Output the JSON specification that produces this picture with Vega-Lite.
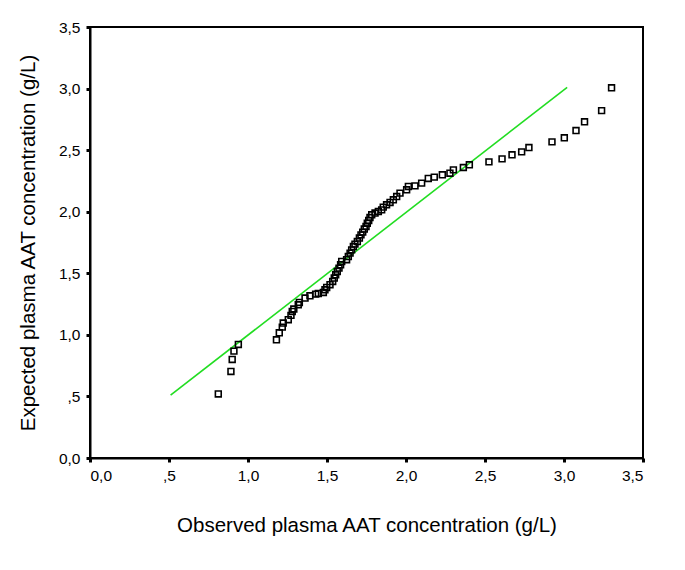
{
  "$schema": "https://vega.github.io/schema/vega-lite/v6.json",
  "autosize": {"type": "none"},
  "padding": {"left": 90, "top": 27, "right": 42, "bottom": 112},
  "width": 553,
  "height": 431,
  "background": "white",
  "config": {
    "view": {"stroke": "black", "strokeWidth": 2},
    "font": "Liberation Sans",
    "axis": {
      "grid": false,
      "domainColor": "black",
      "domainWidth": 2,
      "tickColor": "black",
      "tickWidth": 3,
      "tickSize": 4,
      "labelFont": "Liberation Sans",
      "labelFontSize": 15.5,
      "labelColor": "black",
      "labelPadding": 6,
      "titleFont": "Liberation Sans",
      "titleFontSize": 20.5,
      "titleFontWeight": "normal",
      "titleColor": "black"
    }
  },
  "datasets": {
    "pts": [
      {"obs": 0.812, "exp": 0.52},
      {"obs": 0.892, "exp": 0.703},
      {"obs": 0.900, "exp": 0.80},
      {"obs": 0.911, "exp": 0.868},
      {"obs": 0.939, "exp": 0.922},
      {"obs": 1.18, "exp": 0.96},
      {"obs": 1.198, "exp": 1.017},
      {"obs": 1.217, "exp": 1.063},
      {"obs": 1.223, "exp": 1.096},
      {"obs": 1.255, "exp": 1.123},
      {"obs": 1.272, "exp": 1.158},
      {"obs": 1.28, "exp": 1.19},
      {"obs": 1.29, "exp": 1.21},
      {"obs": 1.318, "exp": 1.244},
      {"obs": 1.325, "exp": 1.263},
      {"obs": 1.361, "exp": 1.299},
      {"obs": 1.392, "exp": 1.317},
      {"obs": 1.428, "exp": 1.331},
      {"obs": 1.445, "exp": 1.336},
      {"obs": 1.477, "exp": 1.344},
      {"obs": 1.487, "exp": 1.366},
      {"obs": 1.498, "exp": 1.385},
      {"obs": 1.519, "exp": 1.407},
      {"obs": 1.536, "exp": 1.434},
      {"obs": 1.546, "exp": 1.461},
      {"obs": 1.555, "exp": 1.488},
      {"obs": 1.565, "exp": 1.515},
      {"obs": 1.576, "exp": 1.542},
      {"obs": 1.586, "exp": 1.569},
      {"obs": 1.593, "exp": 1.596},
      {"obs": 1.624, "exp": 1.61},
      {"obs": 1.635, "exp": 1.636},
      {"obs": 1.646, "exp": 1.664},
      {"obs": 1.656, "exp": 1.69},
      {"obs": 1.667, "exp": 1.717},
      {"obs": 1.677, "exp": 1.737},
      {"obs": 1.692, "exp": 1.758},
      {"obs": 1.705, "exp": 1.786},
      {"obs": 1.715, "exp": 1.812},
      {"obs": 1.726, "exp": 1.834},
      {"obs": 1.736, "exp": 1.859},
      {"obs": 1.747, "exp": 1.88},
      {"obs": 1.755, "exp": 1.907},
      {"obs": 1.764, "exp": 1.929},
      {"obs": 1.772, "exp": 1.953},
      {"obs": 1.783, "exp": 1.975},
      {"obs": 1.804, "exp": 1.989},
      {"obs": 1.825, "exp": 2.002},
      {"obs": 1.846, "exp": 2.015},
      {"obs": 1.856, "exp": 2.037},
      {"obs": 1.877, "exp": 2.056},
      {"obs": 1.899, "exp": 2.075},
      {"obs": 1.92, "exp": 2.097},
      {"obs": 1.941, "exp": 2.123},
      {"obs": 1.962, "exp": 2.151},
      {"obs": 2.004, "exp": 2.178},
      {"obs": 2.015, "exp": 2.205},
      {"obs": 2.057, "exp": 2.21},
      {"obs": 2.099, "exp": 2.232},
      {"obs": 2.141, "exp": 2.27},
      {"obs": 2.179, "exp": 2.281},
      {"obs": 2.23, "exp": 2.3},
      {"obs": 2.278, "exp": 2.313},
      {"obs": 2.30, "exp": 2.34},
      {"obs": 2.363, "exp": 2.359},
      {"obs": 2.401, "exp": 2.381},
      {"obs": 2.525, "exp": 2.405},
      {"obs": 2.608, "exp": 2.429},
      {"obs": 2.671, "exp": 2.462},
      {"obs": 2.732, "exp": 2.486},
      {"obs": 2.778, "exp": 2.521},
      {"obs": 2.924, "exp": 2.567},
      {"obs": 3.002, "exp": 2.6},
      {"obs": 3.076, "exp": 2.659},
      {"obs": 3.13, "exp": 2.73},
      {"obs": 3.238, "exp": 2.821},
      {"obs": 3.301, "exp": 3.006}
    ],
    "ref": [
      {"obs": 0.51, "exp": 0.51},
      {"obs": 3.02, "exp": 3.01}
    ]
  },
  "layer": [
    {
      "data": {"name": "ref"},
      "mark": {"type": "line", "color": "#22dd22", "strokeWidth": 1.6},
      "encoding": {
        "x": {"field": "obs", "type": "quantitative"},
        "y": {"field": "exp", "type": "quantitative"}
      }
    },
    {
      "data": {"name": "pts"},
      "mark": {"type": "point", "shape": "square", "filled": false, "color": "black", "size": 34, "strokeWidth": 1.6, "opacity": 1},
      "encoding": {
        "x": {
          "field": "obs", "type": "quantitative",
          "scale": {"domain": [0, 3.5], "nice": false, "zero": false},
          "axis": {
            "title": "Observed plasma AAT concentration (g/L)",
            "values": [0, 0.5, 1, 1.5, 2, 2.5, 3, 3.5],
            "labelExpr": "datum.value == 0.5 ? ',5' : replace(format(datum.value, '.1f'), '.', ',')",
            "titleY": 57,
            "titleBaseline": "top"
          }
        },
        "y": {
          "field": "exp", "type": "quantitative",
          "scale": {"domain": [0, 3.5], "nice": false, "zero": false},
          "axis": {
            "title": "Expected plasma AAT concentration (g/L)",
            "values": [0, 0.5, 1, 1.5, 2, 2.5, 3, 3.5],
            "labelExpr": "datum.value == 0.5 ? ',5' : replace(format(datum.value, '.1f'), '.', ',')",
            "titleX": -52,
            "titleBaseline": "bottom"
          }
        }
      }
    }
  ]
}
